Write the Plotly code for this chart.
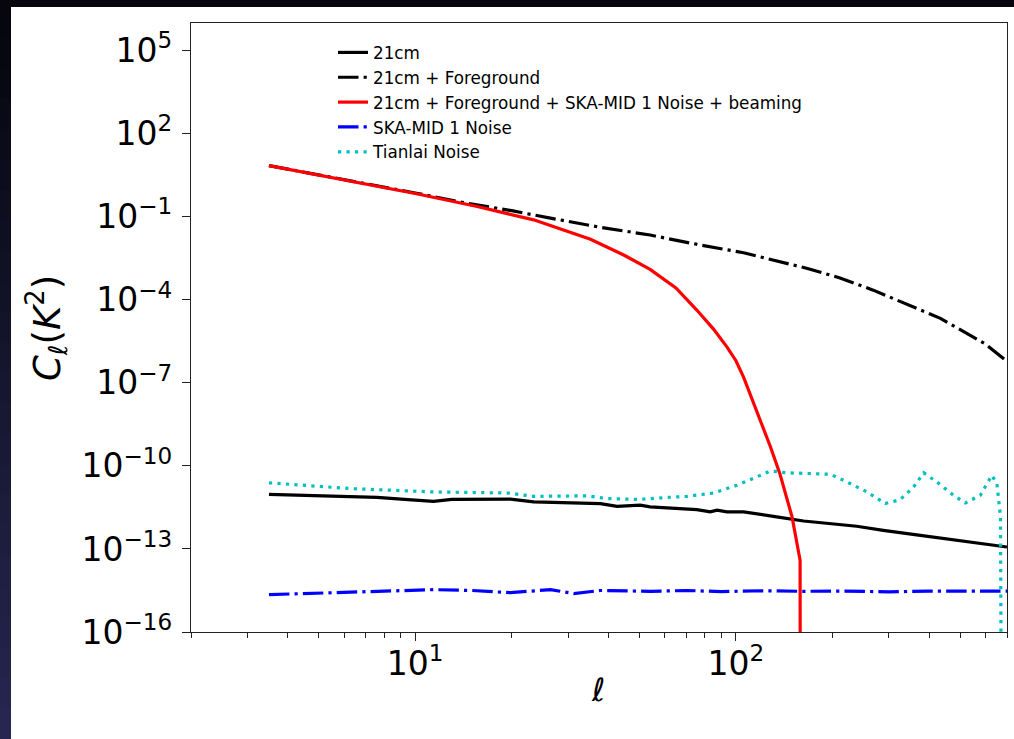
import numpy as np
import plotly.graph_objects as go

# ---- angular power spectra C_ell (K^2), read as log10 values ----
ell_21cm = [3.5, 5, 7.6, 9.5, 11.4, 13, 19.8, 23.4, 35.2, 37.8, 42.6, 50.3, 54,
            75.5, 83.2, 87.3, 93.7, 105.7, 134, 162.5, 238, 288, 376, 525, 700]
log_21cm = [-11.03, -11.07, -11.14, -11.22, -11.28, -11.21, -11.20, -11.30, -11.34, -11.36,
            -11.46, -11.42, -11.48, -11.58, -11.66, -11.60, -11.66, -11.66, -11.84, -11.99,
            -12.18, -12.33, -12.51, -12.75, -12.93]

ell_fg = [3.5, 5, 7, 10, 14.5, 20, 26.4, 37.8, 54, 77.4, 105.7, 130, 166, 210, 268,
          434, 525, 600, 692, 700]
log_fg = [0.85, 0.52, 0.21, -0.14, -0.51, -0.78, -1.05, -1.38, -1.66, -2.02, -2.30,
          -2.55, -2.86, -3.20, -3.65, -4.67, -5.21, -5.60, -6.18, -6.25]

# total signal after the SKA beam; zero beyond ell ~ 159
ell_tot = [3.5, 5, 7, 8, 10, 15.6, 23.4, 35.2, 45, 54, 65, 75.5, 85, 93.7, 100, 105.7,
           112, 119, 128, 137, 149.6, 158.5, 159]
log_tot = [0.85, 0.51, 0.19, 0.07, -0.16, -0.63, -1.11, -1.81, -2.40, -2.90, -3.57,
           -4.37, -5.05, -5.70, -6.20, -6.80, -7.55, -8.35, -9.30, -10.27, -11.84, -13.41,
           -30.0]

ell_ska = [3.5, 5.56, 9.6, 11.4, 15, 19.8, 26.4, 31.2, 37.8, 54, 70, 90, 120, 160,
           220, 300, 400, 520, 700]
log_ska = [-14.65, -14.58, -14.47, -14.47, -14.50, -14.58, -14.47, -14.61, -14.50, -14.53,
           -14.50, -14.54, -14.51, -14.53, -14.52, -14.55, -14.52, -14.53, -14.52]

# Tianlai noise; zero beyond ell ~ 678
ell_tl = [3.5, 6.3, 11.4, 19.5, 23.4, 34.3, 39.6, 50, 61, 70.3, 85.1, 100.7, 116, 128,
          144, 166, 197, 222, 256, 292, 325, 358, 385, 423, 477, 519, 578, 628, 651,
          668, 678]
log_tl = [-10.61, -10.82, -10.94, -10.98, -11.10, -11.08, -11.18, -11.21, -11.14, -11.10,
          -10.98, -10.70, -10.40, -10.18, -10.25, -10.28, -10.30, -10.58, -10.94, -11.36,
          -11.22, -10.76, -10.25, -10.58, -11.06, -11.34, -11.06, -10.34, -10.64, -11.84,
          -30.0]

series_names = ["21cm", "21cm + Foreground", "21cm + Foreground + SKA-MID 1 Noise + beaming",
                "SKA-MID 1 Noise", "Tianlai Noise"]

# ---- axis ticks ----
x_major = [10, 100]
x_major_text = ["10<sup>1</sup>", "10<sup>2</sup>"]
x_minor = [2, 3, 4, 5, 6, 7, 8, 9, 20, 30, 40, 50, 60, 70, 80, 90, 200, 300, 400, 500, 600, 700]
y_exps = [-16, -13, -10, -7, -4, -1, 2, 5]
y_major = [10.0 ** e for e in y_exps]
y_major_text = [f"10<sup>{str(e).replace('-', '−')}</sup>" for e in y_exps]

FONT = "DejaVu Sans"
W, H = 1014, 739
ML, MR, MT, MB = 191, 7, 23, 107
PW, PH = W - ML - MR, H - MT - MB


def px_x(px):
    return (px - ML) / PW


def px_y(py):
    return (H - MB - py) / PH


lw = 3.2
dashdot = f"{6.4*lw:.1f}px,{1.6*lw:.1f}px,{1.0*lw:.1f}px,{1.6*lw:.1f}px"
dotted = f"{1.0*lw:.1f}px,{1.65*lw:.1f}px"

fig = go.Figure()
specs = [
    (ell_21cm, log_21cm, series_names[0], "black", "solid"),
    (ell_fg, log_fg, series_names[1], "black", dashdot),
    (ell_tot, log_tot, series_names[2], "#ff0000", "solid"),
    (ell_ska, log_ska, series_names[3], "#0000ff", dashdot),
    (ell_tl, log_tl, series_names[4], "#00bfbf", dotted),
]
for ell, logc, name, color, dash in specs:
    fig.add_trace(go.Scatter(
        x=ell, y=[10.0 ** v for v in logc], mode="lines", name=name,
        line=dict(color=color, width=lw, dash=dash),
    ))

axis_common = dict(
    type="log", showline=True, mirror=True, linecolor="#222222", linewidth=1.4,
    ticks="outside", tickcolor="#222222", tickwidth=1.4, ticklen=8,
    showgrid=False, zeroline=False,
    tickfont=dict(family=FONT, size=33, color="black"),
)

fig.update_layout(
    width=W, height=H,
    margin=dict(l=ML, r=MR, t=MT, b=MB),
    paper_bgcolor="white", plot_bgcolor="white",
    font=dict(family=FONT, color="black"),
    xaxis=dict(
        **axis_common,
        range=[np.log10(2), np.log10(700)],
        tickmode="array", tickvals=x_major, ticktext=x_major_text,
        ticklabelstandoff=-6,
        minor=dict(tickmode="array", tickvals=x_minor, ticks="outside", ticklen=4.5,
                   tickwidth=1.2, tickcolor="#222222", showgrid=False),
    ),
    yaxis=dict(
        **axis_common,
        range=[-16, 6],
        tickmode="array", tickvals=y_major, ticktext=y_major_text,
        ticklabelstandoff=3,
    ),
    legend=dict(
        x=px_x(333), y=px_y(35), xanchor="left", yanchor="top",
        bgcolor="rgba(255,255,255,0)", borderwidth=0,
        font=dict(family=FONT, size=16.8, color="black"),
        tracegroupgap=0, itemwidth=30,
    ),
    showlegend=True,
)

# axis titles
fig.add_annotation(text="<i>ℓ</i>", xref="paper", yref="paper",
                   x=px_x(598), y=px_y(690), xanchor="center", yanchor="middle",
                   showarrow=False, font=dict(family=FONT, size=32, color="black"))
fig.add_annotation(text="<i>C</i><sub><i>ℓ</i></sub>(<i>K</i><sup>2</sup>)",
                   xref="paper", yref="paper", textangle=-90,
                   x=px_x(47), y=px_y(328), xanchor="center", yanchor="middle",
                   showarrow=False, font=dict(family=FONT, size=37, color="black"))

# dark frame around the figure: black band on top, shaded strip on the left
shapes = [dict(type="rect", xref="paper", yref="paper",
               x0=px_x(0), x1=px_x(W), y0=px_y(7), y1=px_y(0),
               fillcolor="#06060c", line=dict(width=0), layer="above")]
n = 24
for i in range(n):
    t = i / (n - 1)
    r = int(6 + t * (38 - 6))
    g = int(6 + t * (38 - 6))
    b = int(14 + t * (80 - 14))
    shapes.append(dict(type="rect", xref="paper", yref="paper",
                       x0=px_x(0), x1=px_x(11),
                       y0=px_y(7 + (i + 1) * (H - 7) / n + 0.5), y1=px_y(7 + i * (H - 7) / n),
                       fillcolor=f"rgb({r},{g},{b})", line=dict(width=0), layer="above"))
shapes.append(dict(type="rect", xref="paper", yref="paper",
                   x0=px_x(0), x1=px_x(11), y0=px_y(7), y1=px_y(0),
                   fillcolor="#06060c", line=dict(width=0), layer="above"))
fig.update_layout(shapes=shapes)

fig.write_html("out.html")
